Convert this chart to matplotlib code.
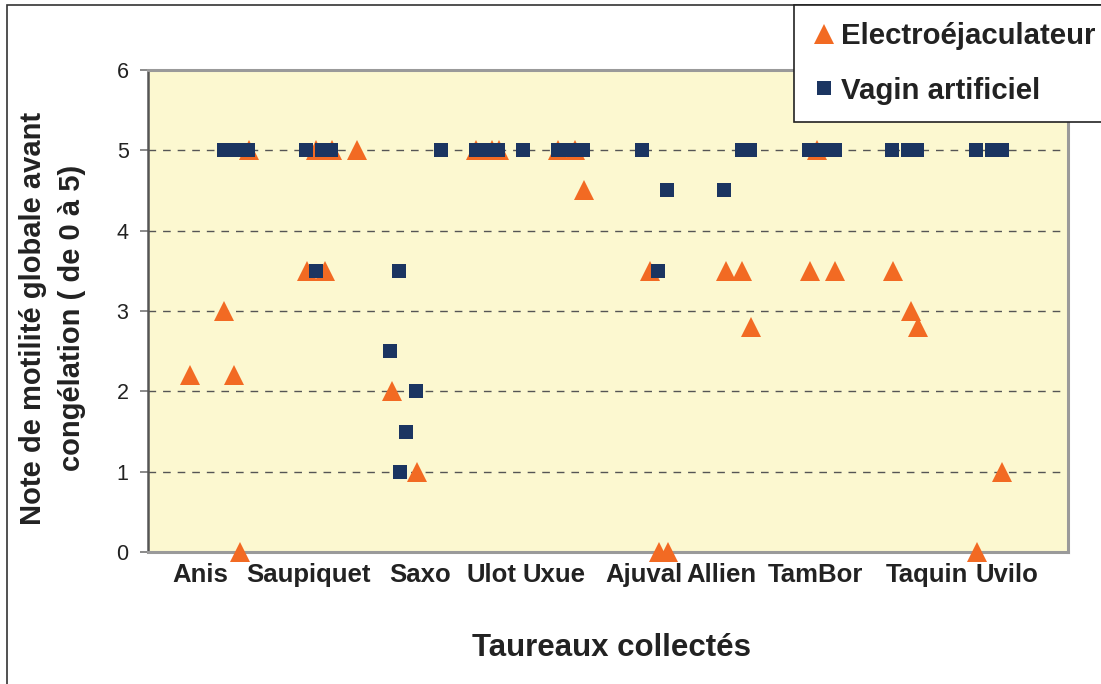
import matplotlib
matplotlib.use("Agg")
import matplotlib.pyplot as plt
from matplotlib.patches import Rectangle
from matplotlib.lines import Line2D

# ---- data (x = position along the collection axis, y = motility score) ----
bulls = ["Anis", "Saupiquet", "Saxo", "Ulot", "Uxue", "Ajuval", "Allien", "TamBor", "Taquin", "Uvilo"]
bull_pos = [52, 160, 272, 344, 406, 496, 573, 667, 779, 859]

electro_x = [42, 76, 86, 92, 101, 159, 168, 177, 184, 209, 244, 269, 328, 344, 351,
             410, 427, 436, 502, 511, 520, 578, 594, 603, 662, 669, 687, 745, 763, 770, 829, 854]
electro_y = [2.2, 3.0, 2.2, 0.0, 5.0, 3.5, 5.0, 3.5, 5.0, 5.0, 2.0, 1.0, 5.0, 5.0, 5.0,
             5.0, 5.0, 4.5, 3.5, 0.0, 0.0, 3.5, 3.5, 2.8, 3.5, 5.0, 3.5, 3.5, 3.0, 2.8, 0.0, 1.0]

vagin_x = [76, 88, 100, 158, 168, 174, 183, 242, 251, 252, 258, 268, 293, 328, 339, 350,
           375, 410, 424, 435, 494, 510, 519, 576, 594, 602, 661, 674, 687, 744, 760, 769, 828, 844, 854]
vagin_y = [5.0, 5.0, 5.0, 5.0, 3.5, 5.0, 5.0, 2.5, 3.5, 1.0, 1.5, 2.0, 5.0, 5.0, 5.0, 5.0,
           5.0, 5.0, 5.0, 5.0, 5.0, 3.5, 4.5, 4.5, 5.0, 5.0, 5.0, 5.0, 5.0, 5.0, 5.0, 5.0, 5.0, 5.0, 5.0]

series_labels = ["Electroéjaculateur", "Vagin artificiel"]
y_ticks = [0, 1, 2, 3, 4, 5, 6]
y_label = "Note de motilité globale avant\ncongélation ( de 0 à 5)"
x_label = "Taureaux collectés"

# ---- style ----
plt.rcParams['font.family'] = ['Liberation Sans', 'DejaVu Sans']
ORANGE = "#F26A23"
NAVY = "#1B3561"
BG = "#FCF8D0"
TXT = "#222222"

W, H = 1101, 684
fig = plt.figure(figsize=(W / 100, H / 100), dpi=100)
fig.patch.set_facecolor("white")

# outer chart border
fig.add_artist(Rectangle((7 / W, -0.1), 2.0, 1 - 5 / H + 0.1, transform=fig.transFigure,
                         fill=False, edgecolor="#333333", linewidth=1.2, zorder=0))

ax = fig.add_axes([148 / W, 1 - 552 / H, (1068 - 148) / W, (552 - 70) / H])
ax.set_facecolor(BG)
ax.set_xlim(0, 920)
ax.set_ylim(0, 6)

for yv in y_ticks[1:-1]:
    ax.axhline(yv, color="#555555", linewidth=1.0, dashes=(5.5, 5.0), zorder=1)

ax.plot(electro_x, electro_y, linestyle="none", marker="^", markersize=14.5,
        color=ORANGE, markeredgewidth=0, zorder=3, clip_on=False, label=series_labels[0])
ax.plot(vagin_x, vagin_y, linestyle="none", marker="s", markersize=9.5,
        color=NAVY, markeredgewidth=0, zorder=4, clip_on=False, label=series_labels[1])

ax.set_yticks(y_ticks)
ax.set_yticklabels([str(v) for v in y_ticks], fontsize=15.5, color=TXT)
ax.tick_params(axis="y", direction="out", length=6, width=1.2, color="#777777", pad=8)
ax.set_xticks(bull_pos)
ax.set_xticklabels(bulls, fontsize=18.5, fontweight="bold", color=TXT)
ax.tick_params(axis="x", length=0, pad=8)

for side in ["top", "right", "bottom"]:
    ax.spines[side].set_color("#9a9a9a")
    ax.spines[side].set_linewidth(2.2)
ax.spines["left"].set_color("#555555")
ax.spines["left"].set_linewidth(1.8)

fig.text(611 / W, 1 - 648 / H, x_label, ha="center", va="center", fontsize=22.5,
         fontweight="bold", color=TXT)
fig.text(53 / W, 1 - 318 / H, y_label, ha="center", va="center", rotation=90,
         fontsize=21, fontweight="bold", color=TXT, linespacing=1.5,
         multialignment="center")

handles = [Line2D([], [], linestyle="none", marker="^", markersize=14.5, color=ORANGE, markeredgewidth=0),
           Line2D([], [], linestyle="none", marker="s", markersize=9.5, color=NAVY, markeredgewidth=0)]
leg = fig.legend(handles, series_labels, loc="upper left",
                 bbox_to_anchor=(794 / W, 1 - 5 / H), bbox_transform=fig.transFigure,
                 frameon=True, fancybox=False, shadow=False, framealpha=1,
                 edgecolor="#222222", facecolor="white",
                 prop={"family": ["Liberation Sans"], "weight": "bold", "size": 21.2},
                 handlelength=0.9, handletextpad=0.1, labelspacing=0.9,
                 borderpad=0.58, borderaxespad=0.0)
leg.get_frame().set_linewidth(1.2)
for t in leg.get_texts():
    t.set_color(TXT)

fig.savefig("out.png", dpi=100)
